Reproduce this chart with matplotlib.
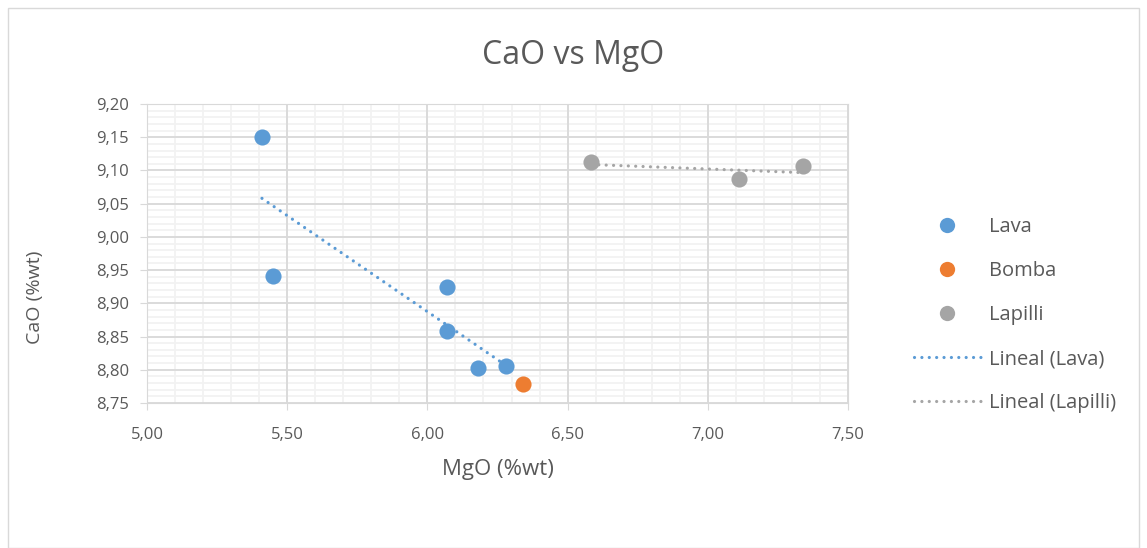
import numpy as np
import matplotlib.pyplot as plt
from matplotlib.lines import Line2D
from matplotlib.ticker import MultipleLocator, FuncFormatter
from matplotlib.patches import Rectangle

plt.rcParams['font.family'] = ['Open Sans', 'DejaVu Sans']

# MgO / CaO (%wt) por tipo de muestra
lava_mgo = [5.41, 5.45, 6.07, 6.07, 6.18, 6.28]
lava_cao = [9.151, 8.941, 8.924, 8.858, 8.802, 8.805]
bomba_mgo = [6.34]
bomba_cao = [8.779]
lapilli_mgo = [6.585, 7.11, 7.34]
lapilli_cao = [9.113, 9.087, 9.106]

c_lava = '#5b9bd5'
c_bomba = '#ed7d31'
c_lap = '#a5a5a5'
txt = '#595959'
dots = (0, (0.01, 2.3))

fig = plt.figure(figsize=(11.47, 5.48), dpi=100)
fig.patches.append(Rectangle((8 / 1147, 0), 1131 / 1147, 540 / 548, transform=fig.transFigure,
                             fill=False, edgecolor='#d9d9d9', linewidth=1))
ax = fig.add_axes([147 / 1147, 1 - 403 / 548, 701 / 1147, 299 / 548])

ax.set_xlim(5.0, 7.5)
ax.set_ylim(8.75, 9.20)
ax.xaxis.set_major_locator(MultipleLocator(0.5))
ax.yaxis.set_major_locator(MultipleLocator(0.05))

# rejilla secundaria a mano, debajo de la principal
ax.vlines(np.arange(5.1, 7.5, 0.1), 8.75, 9.20, color='#f2f2f2', linewidth=1.3, zorder=0.1)
ax.hlines(np.arange(8.76, 9.20, 0.01), 5.0, 7.5, color='#f2f2f2', linewidth=1.3, zorder=0.1)
ax.grid(which='major', color='#d9d9d9', linewidth=1.3)
ax.set_axisbelow(True)

fmt = FuncFormatter(lambda v, p: f'{v:.2f}'.replace('.', ','))
ax.xaxis.set_major_formatter(fmt)
ax.yaxis.set_major_formatter(fmt)
for s in ax.spines.values():
    s.set_color('#d9d9d9')
ax.tick_params(which='both', labelsize=12, colors=txt, length=5, color='#d9d9d9')
ax.tick_params(axis='x', pad=12)
ax.tick_params(axis='y', pad=8)

# líneas de tendencia (ajuste lineal)
for xs, ys, c in [(lava_mgo, lava_cao, c_lava), (lapilli_mgo, lapilli_cao, c_lap)]:
    k, b = np.polyfit(xs, ys, 1)
    xx = np.array([min(xs), max(xs)])
    ax.plot(xx, k * xx + b, color=c, linestyle=dots, linewidth=2.3,
            dash_capstyle='round', zorder=2)

ax.scatter(lava_mgo, lava_cao, s=135, color=c_lava, zorder=3, linewidths=0)
ax.scatter(bomba_mgo, bomba_cao, s=135, color=c_bomba, zorder=3, linewidths=0)
ax.scatter(lapilli_mgo, lapilli_cao, s=135, color=c_lap, zorder=3, linewidths=0)

ax.set_xlabel('MgO (%wt)', fontsize=16, color=txt, labelpad=12)
ax.set_ylabel('CaO (%wt)', fontsize=14, color=txt)
ax.yaxis.set_label_coords(-0.147, 0.355)
fig.text(0.5, 1 - 55 / 548, 'CaO vs MgO', ha='center', va='center', fontsize=23, color=txt)

handles = [
    Line2D([], [], marker='o', linestyle='none', markersize=11, color=c_lava, markeredgewidth=0),
    Line2D([], [], marker='o', linestyle='none', markersize=11, color=c_bomba, markeredgewidth=0),
    Line2D([], [], marker='o', linestyle='none', markersize=11, color=c_lap, markeredgewidth=0),
    Line2D([], [], color=c_lava, linestyle=dots, linewidth=2.3, dash_capstyle='round'),
    Line2D([], [], color=c_lap, linestyle=dots, linewidth=2.3, dash_capstyle='round'),
]
labels = ['Lava', 'Bomba', 'Lapilli', 'Lineal (Lava)', 'Lineal (Lapilli)']
leg = fig.legend(handles, labels, loc='center left', bbox_to_anchor=(896 / 1147, 1 - 315 / 548),
                 frameon=False, fontsize=14.5, labelspacing=1.2, handlelength=3.3,
                 handletextpad=0.4, labelcolor=txt)

fig.savefig('out.png', dpi=100)
